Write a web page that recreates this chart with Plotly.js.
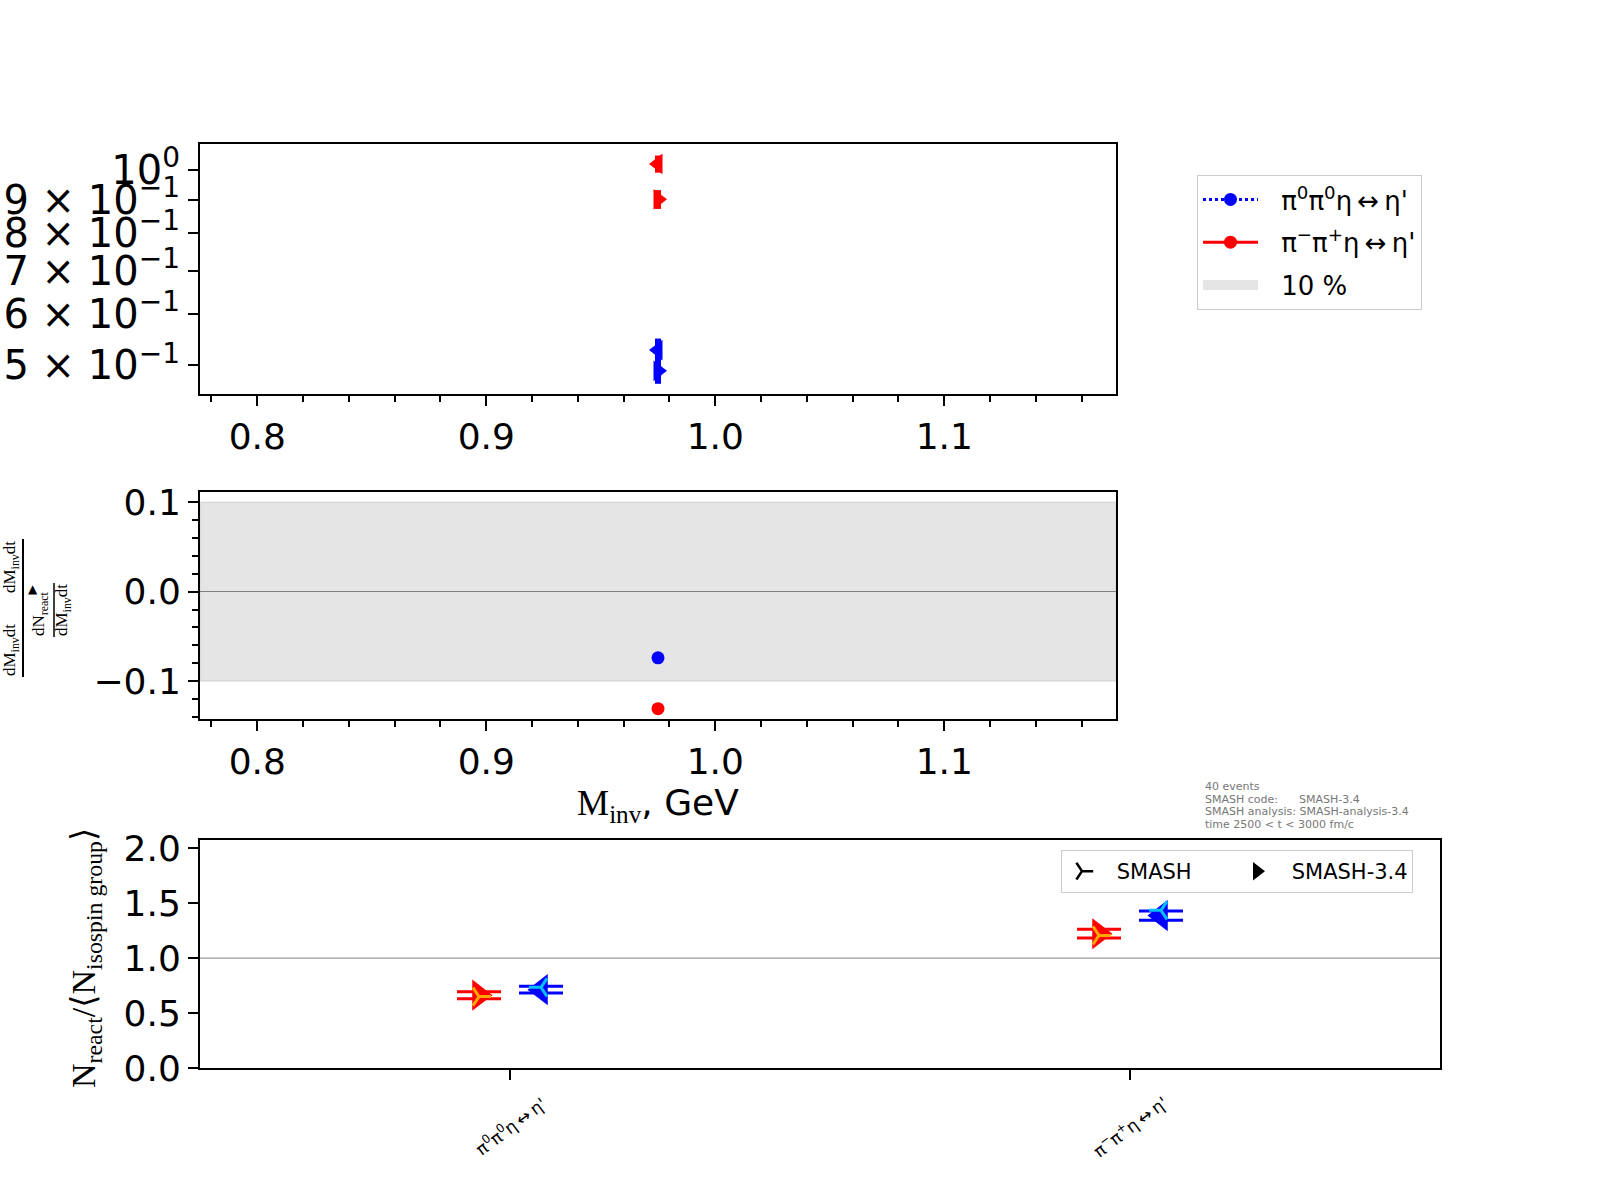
<!DOCTYPE html>
<html>
<head>
<meta charset="utf-8">
<script src="https://cdn.plot.ly/plotly-3.0.1.min.js"></script>
<style>
  body { margin: 0; background: #fff; }
  #chart { width: 1600px; height: 1200px; }
</style>
</head>
<body>
<div id="chart"></div>
<script>
// ── Values ───────────────────────────────────────────────────────────

const reactionNames = ["π<sup>0</sup>π<sup>0</sup>η\u2009↔\u2009η'", "π<sup>−</sup>π<sup>+</sup>η\u2009↔\u2009η'"];
const reactionColors = ['#0000ff', '#ff0000'];

// top panel: dN/dM_inv dt at the eta' mass, one point per direction
const massPoints = [0.975, 0.975];
const directionSymbols = ['triangle-left', 'triangle-right'];
const rateBlue = [0.528, 0.4905];
const rateBlueErr = [0.022, 0.022];
const rateRed = [1.0215, 0.901];
const rateRedErr = [0.031, 0.030];

const logTickVals = [0.5, 0.6, 0.7, 0.8, 0.9, 1.0];
const logTickText = [
    '5 × 10<sup>−1</sup>', '6 × 10<sup>−1</sup>', '7 × 10<sup>−1</sup>',
    '8 × 10<sup>−1</sup>', '9 × 10<sup>−1</sup>', '10<sup>0</sup>'
];

// middle panel: relative difference of the two directions
const ratioMass = [0.975];
const ratioBlue = [-0.074];
const ratioRed = [-0.131];
const bandHalfWidth = 0.1;   // the "10 %" band

// bottom panel: N_react / <N_isospin group>
const categoryIndex = [0, 1];
const leftOffset = -0.05;
const rightOffset = 0.05;
const smashLeft = [0.650, 1.207];
const smashRight = [0.734, 1.435];
const refLeft = [0.663, 1.222];
const refLeftErr = [0.032, 0.040];
const refRight = [0.713, 1.387];
const refRightErr = [0.030, 0.042];
const referenceLevel = 1.0;

const infoLines = [
    '40 events',
    'SMASH code:\u00a0\u00a0\u00a0\u00a0\u00a0\u00a0SMASH-3.4',
    'SMASH analysis: SMASH-analysis-3.4',
    'time 2500 &lt; t &lt; 3000 fm/c'
];

// ── Helpers ──────────────────────────────────────────────────────────

const SERIF = 'Liberation Serif, DejaVu Serif, serif';
const SANS = 'DejaVu Sans, sans-serif';
const LEGEND_PAD = '\u2002\u2009';   // gap between legend key and its text

function frameAxis(extra) {
    return Object.assign({
        ticks: 'outside', ticklen: 10, tickwidth: 2, tickcolor: '#000',
        tickfont: { size: 36, family: SANS, color: '#000' },
        showline: true, mirror: true, linewidth: 2, linecolor: '#000',
        showgrid: false, zeroline: false
    }, extra);
}

function massAxis(extra) {
    return frameAxis(Object.assign({
        range: [0.775, 1.175], tick0: 0, dtick: 0.1, tickformat: '.1f',
        minor: { tick0: 0, dtick: 0.02, ticks: 'outside', ticklen: 6,
                 tickwidth: 1.5, tickcolor: '#000', showgrid: false }
    }, extra));
}

const shifted = (arr, off) => arr.map(v => v + off);

// ── Traces ───────────────────────────────────────────────────────────

const traces = [
    // top panel
    {
        x: massPoints, y: rateBlue, xaxis: 'x', yaxis: 'y',
        type: 'scatter', mode: 'markers', showlegend: false,
        marker: { symbol: directionSymbols, size: 18, color: reactionColors[0] },
        error_y: { type: 'data', array: rateBlueErr, visible: true,
                   color: reactionColors[0], thickness: 6, width: 0 }
    },
    {
        x: massPoints, y: rateRed, xaxis: 'x', yaxis: 'y',
        type: 'scatter', mode: 'markers', showlegend: false,
        marker: { symbol: directionSymbols, size: 18, color: reactionColors[1] },
        error_y: { type: 'data', array: rateRedErr, visible: true,
                   color: reactionColors[1], thickness: 6, width: 0 }
    },
    // middle panel (also carries the top legend entries)
    {
        x: ratioMass, y: ratioBlue, xaxis: 'x2', yaxis: 'y2',
        type: 'scatter', mode: 'lines+markers', name: LEGEND_PAD + reactionNames[0],
        legend: 'legend', legendgroup: 'g1', legendrank: 1,
        line: { color: reactionColors[0], width: 3, dash: 'dot' },
        marker: { size: 13, color: reactionColors[0] }
    },
    {
        x: ratioMass, y: ratioRed, xaxis: 'x2', yaxis: 'y2',
        type: 'scatter', mode: 'lines+markers', name: LEGEND_PAD + reactionNames[1],
        legend: 'legend', legendgroup: 'g2', legendrank: 2,
        line: { color: reactionColors[1], width: 3 },
        marker: { size: 13, color: reactionColors[1] }
    },
    // legend key for the 10 % band (drawn below as a shape)
    {
        x: [null], y: [null], xaxis: 'x2', yaxis: 'y2',
        type: 'scatter', mode: 'lines', name: LEGEND_PAD + '10 %',
        legend: 'legend', legendgroup: 'g3', legendrank: 3,
        line: { color: '#e5e5e5', width: 18 }
    },
    // bottom panel: SMASH-3.4 triangles with error caps
    {
        x: shifted(categoryIndex, leftOffset), y: refLeft, xaxis: 'x3', yaxis: 'y3',
        type: 'scatter', mode: 'markers', showlegend: false,
        marker: { symbol: 'triangle-right', size: 27, color: '#ff0000' },
        error_y: { type: 'data', array: refLeftErr, visible: true,
                   color: '#ff0000', thickness: 3, width: 22 }
    },
    {
        x: shifted(categoryIndex, rightOffset), y: refRight, xaxis: 'x3', yaxis: 'y3',
        type: 'scatter', mode: 'markers', showlegend: false,
        marker: { symbol: 'triangle-left', size: 27, color: '#0000ff' },
        error_y: { type: 'data', array: refRightErr, visible: true,
                   color: '#0000ff', thickness: 3, width: 22 }
    },
    // bottom panel: SMASH tri markers on top
    {
        x: shifted(categoryIndex, leftOffset), y: smashLeft, xaxis: 'x3', yaxis: 'y3',
        type: 'scatter', mode: 'markers', showlegend: false,
        marker: { symbol: 'y-right', size: 15, color: '#ffa500',
                  line: { color: '#ffa500', width: 3 } }
    },
    {
        x: shifted(categoryIndex, rightOffset), y: smashRight, xaxis: 'x3', yaxis: 'y3',
        type: 'scatter', mode: 'markers', showlegend: false,
        marker: { symbol: 'y-left', size: 15, color: '#00bfff',
                  line: { color: '#00bfff', width: 3 } }
    },
    // legend keys for the bottom panel (black, as in the reference)
    {
        x: [null], y: [null], xaxis: 'x3', yaxis: 'y3',
        type: 'scatter', mode: 'markers', name: LEGEND_PAD + 'SMASH', legend: 'legend2',
        marker: { symbol: 'y-right', size: 14, color: '#000',
                  line: { color: '#000', width: 2.5 } }
    },
    {
        x: [null], y: [null], xaxis: 'x3', yaxis: 'y3',
        type: 'scatter', mode: 'markers', name: LEGEND_PAD + 'SMASH-3.4', legend: 'legend2',
        marker: { symbol: 'triangle-right', size: 22, color: '#000' }
    }
];

// ── Annotations ──────────────────────────────────────────────────────

const annotations = [];

// rotated category labels under the bottom panel
categoryIndex.forEach((ci, i) => {
    annotations.push({
        text: reactionNames[i], xref: 'x3', yref: 'paper',
        x: ci, y: 1 - 1126 / 1200, xanchor: 'center', yanchor: 'middle',
        textangle: -37, showarrow: false,
        font: { size: 17, family: SANS, color: '#000' }
    });
});

// run info above the bottom panel
infoLines.forEach((line, i) => {
    annotations.push({
        text: line, xref: 'paper', yref: 'paper',
        x: 1203 / 1600, y: 1 - (786.5 + i * 12.5) / 1200,
        xanchor: 'left', yanchor: 'middle', showarrow: false,
        font: { size: 11, family: SANS, color: '#777' }
    });
});

// bottom y-axis label
annotations.push({
    text: 'N<sub>react</sub>/⟨N<sub>isospin group</sub>⟩',
    xref: 'paper', yref: 'paper', x: 86 / 1600, y: 1 - 958 / 1200,
    xanchor: 'center', yanchor: 'middle', textangle: -90, showarrow: false,
    font: { size: 34, family: SERIF, color: '#000' }
});

// middle y-axis label (nested fraction, partly off the page)
const fracPieces = [
    { t: 'dM<sub>inv</sub>dt', x: 11, y: 567 },
    { t: 'dM<sub>inv</sub>dt', x: 11, y: 650 },
    { t: 'dN<sub>react</sub>', x: 40, y: 614 },
    { t: 'dM<sub>inv</sub>dt', x: 63, y: 610 }
];
fracPieces.forEach(p => {
    annotations.push({
        text: p.t, xref: 'paper', yref: 'paper',
        x: p.x / 1600, y: 1 - p.y / 1200,
        xanchor: 'center', yanchor: 'middle', textangle: -90, showarrow: false,
        font: { size: 17, family: SERIF, color: '#000' }
    });
});
annotations.push({
    text: '▲', xref: 'paper', yref: 'paper', x: 33 / 1600, y: 1 - 589 / 1200,
    xanchor: 'center', yanchor: 'middle', showarrow: false,
    font: { size: 12, family: SANS, color: '#000' }
});

// ── Shapes ───────────────────────────────────────────────────────────

const shapes = [
    {
        type: 'rect', xref: 'x2 domain', yref: 'y2',
        x0: 0, x1: 1, y0: -bandHalfWidth, y1: bandHalfWidth,
        fillcolor: '#e5e5e5', line: { color: '#d0d0d0', width: 1 },
        layer: 'below'
    },
    {
        type: 'line', xref: 'x3 domain', yref: 'y3',
        x0: 0, x1: 1, y0: referenceLevel, y1: referenceLevel,
        line: { color: '#808080', width: 1 }, layer: 'below'
    },
    // fraction bars of the middle y label
    { type: 'line', xref: 'paper', yref: 'paper',
      x0: 23 / 1600, x1: 23 / 1600, y0: 1 - 539 / 1200, y1: 1 - 677 / 1200,
      line: { color: '#000', width: 2 } },
    { type: 'line', xref: 'paper', yref: 'paper',
      x0: 54 / 1600, x1: 54 / 1600, y0: 1 - 583 / 1200, y1: 1 - 637 / 1200,
      line: { color: '#000', width: 1.5 } }
];

// ── Layout ───────────────────────────────────────────────────────────

const layout = {
    width: 1600, height: 1200,
    margin: { l: 0, r: 0, t: 0, b: 0 },
    paper_bgcolor: '#fff', plot_bgcolor: '#fff',
    font: { family: SANS, color: '#000' },
    showlegend: true,

    xaxis: massAxis({ domain: [200 / 1600, 1116 / 1600], anchor: 'y' }),
    yaxis: frameAxis({
        domain: [1 - 394 / 1200, 1 - 144 / 1200], anchor: 'x',
        type: 'log', range: [-0.345, 0.040],
        tickmode: 'array', tickvals: logTickVals, ticktext: logTickText,
        tickfont: { size: 40, family: SANS, color: '#000' }
    }),

    xaxis2: massAxis({
        domain: [200 / 1600, 1116 / 1600], anchor: 'y2',
        title: {
            text: '<span style="font-family:Liberation Serif">M<sub>inv</sub></span>, GeV',
            font: { size: 36, family: SANS, color: '#000' }, standoff: 8
        }
    }),
    yaxis2: frameAxis({
        domain: [1 - 719 / 1200, 1 - 492 / 1200], anchor: 'x2',
        range: [-0.1425, 0.1115], tick0: 0, dtick: 0.1, tickformat: '.1f',
        zeroline: true, zerolinecolor: '#808080', zerolinewidth: 1,
        minor: { tick0: 0, dtick: 0.02, ticks: 'outside', ticklen: 6,
                 tickwidth: 1.5, tickcolor: '#000', showgrid: false }
    }),

    xaxis3: frameAxis({
        domain: [200 / 1600, 1440 / 1600], anchor: 'y3',
        range: [-0.5, 1.5], tickmode: 'array', tickvals: categoryIndex,
        ticktext: categoryIndex.map(() => '')
    }),
    yaxis3: frameAxis({
        domain: [1 - 1068 / 1200, 1 - 840 / 1200], anchor: 'x3',
        range: [0, 2.075], tick0: 0, dtick: 0.5, tickformat: '.1f'
    }),

    legend: {
        x: 1197 / 1600, y: 1 - 175 / 1200, xanchor: 'left', yanchor: 'top',
        bgcolor: '#fff', bordercolor: '#cccccc', borderwidth: 1,
        font: { size: 26, family: SANS, color: '#000' },
        tracegroupgap: 6, itemwidth: 55
    },
    legend2: {
        x: 1061 / 1600, y: 1 - 850 / 1200, xanchor: 'left', yanchor: 'top',
        orientation: 'h', bgcolor: '#fff', bordercolor: '#cccccc', borderwidth: 1,
        entrywidth: 130, entrywidthmode: 'pixels',
        font: { size: 21, family: SANS, color: '#000' }
    },

    annotations: annotations,
    shapes: shapes
};

Plotly.newPlot('chart', traces, layout, { displayModeBar: false });
</script>
</body>
</html>
